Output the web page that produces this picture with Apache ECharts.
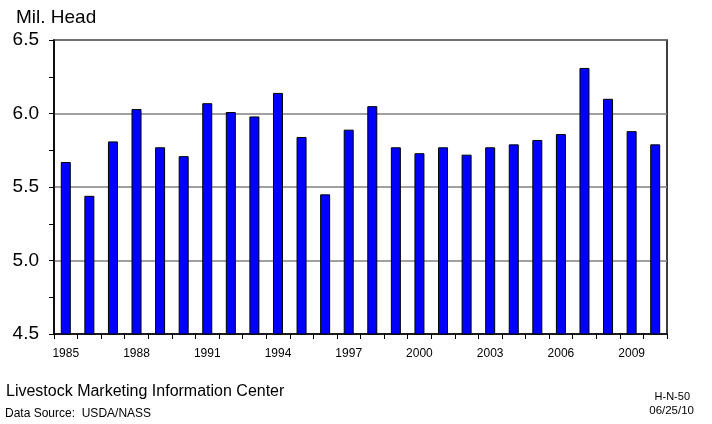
<!DOCTYPE html>
<html>
<head>
<meta charset="utf-8">
<script src="https://cdn.jsdelivr.net/npm/echarts@6/dist/echarts.min.js"></script>
<style>
  html, body { margin: 0; padding: 0; background: #fff; }
  #chart { width: 712px; height: 424px; }
</style>
</head>
<body>
<div id="chart"></div>
<script>
const years = ['1985', '1986', '1987', '1988', '1989', '1990', '1991', '1992', '1993',
  '1994', '1995', '1996', '1997', '1998', '1999', '2000', '2001', '2002', '2003',
  '2004', '2005', '2006', '2007', '2008', '2009', '2010'];
const head = [5.67, 5.44, 5.81, 6.03, 5.77, 5.71, 6.07, 6.01, 5.98,
  6.14, 5.84, 5.45, 5.89, 6.05, 5.77, 5.73, 5.77, 5.72, 5.77,
  5.79, 5.82, 5.86, 6.31, 6.10, 5.88, 5.79];
const unitLabel = 'Mil. Head';
const sourceLines = ['Livestock Marketing Information Center', 'Data Source:  USDA/NASS'];
const codeLines = ['H-N-50', '06/25/10'];

const chart = echarts.init(document.getElementById('chart'));
const font = 'Arial, "Liberation Sans", sans-serif';

const option = {
  backgroundColor: '#fff',
  animation: false,
  title: {
    text: unitLabel,
    left: 11,
    top: 3,
    textStyle: { fontFamily: font, fontSize: 19, fontWeight: 'normal', color: '#000' }
  },
  grid: {
    left: 54,
    right: 45,
    top: 40,
    bottom: 90,
    show: true,
    borderColor: '#000',
    borderWidth: 1.5,
    backgroundColor: '#fff'
  },
  xAxis: {
    type: 'category',
    data: years,
    axisLine: { lineStyle: { color: '#000', width: 1.5 } },
    axisTick: { show: true, interval: 0, length: 5, lineStyle: { color: '#000' } },
    axisLabel: {
      interval: 2,
      margin: 14,
      fontFamily: '"Liberation Sans Narrow", Arial, sans-serif',
      fontSize: 12,
      color: '#000'
    },
    splitLine: { show: false }
  },
  yAxis: {
    type: 'value',
    min: 4.5,
    max: 6.5,
    interval: 0.5,
    axisLine: { show: true, lineStyle: { color: '#000', width: 1.5 } },
    axisTick: { show: true, length: 5, lineStyle: { color: '#000' } },
    minorTick: { show: true, splitNumber: 2, length: 5, lineStyle: { color: '#000' } },
    axisLabel: {
      margin: 15,
      fontFamily: font,
      fontSize: 19,
      color: '#000',
      formatter: v => v.toFixed(1)
    },
    splitLine: { show: true, lineStyle: { color: '#808080', width: 1.5 } }
  },
  series: [
    {
      type: 'bar',
      data: head,
      barWidth: 10,
      itemStyle: { color: '#0000ff', borderColor: '#000', borderWidth: 1 }
    }
  ],
  graphic: [
    {
      type: 'text', left: 6, top: 384,
      style: { text: sourceLines[0], font: '16px ' + font, fill: '#000' }
    },
    {
      type: 'text', left: 5, top: 408,
      style: { text: sourceLines[1], font: '12px ' + font, fill: '#000' }
    },
    {
      type: 'text', right: 22, top: 391,
      style: { text: codeLines[0], font: '11px ' + font, fill: '#000', align: 'right' }
    },
    {
      type: 'text', right: 18, top: 405,
      style: { text: codeLines[1], font: '11.5px ' + font, fill: '#000', align: 'right' }
    }
  ]
};

chart.setOption(option);
</script>
</body>
</html>
